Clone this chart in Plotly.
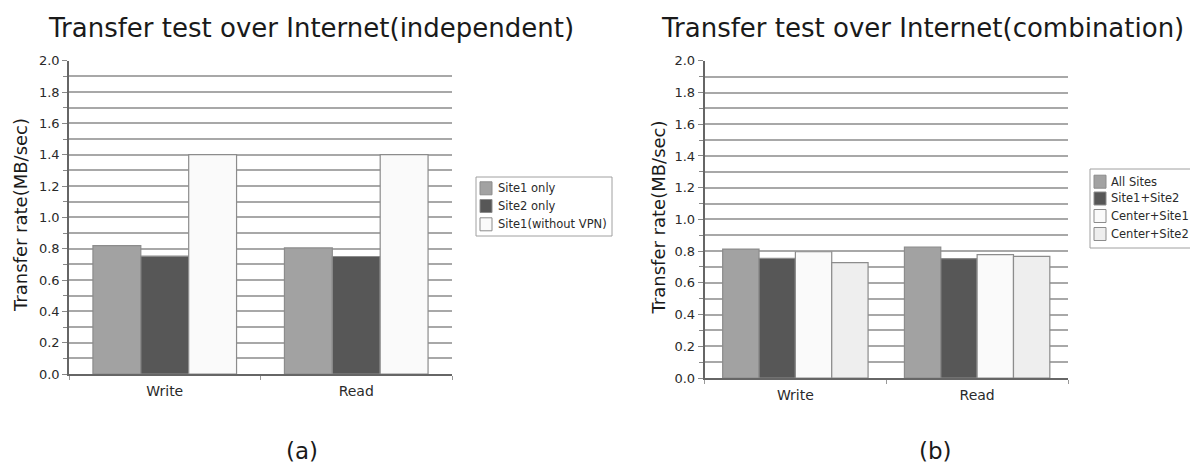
import plotly.graph_objects as go

# The page body adds an 8px margin, so the figure fills the rest of the window.
OFF = 8
W, H = 1198 - OFF, 466 - OFF

categories = ["Write", "Read"]

# Panel (a)
series_a_names = ["Site1 only", "Site2 only", "Site1(without VPN)"]
series_a_values = [
    [0.82, 0.805],
    [0.752, 0.75],
    [1.40, 1.40],
]
series_a_colors = ["#a2a2a2", "#575757", "#fafafa"]

# Panel (b)
series_b_names = ["All Sites", "Site1+Site2", "Center+Site1", "Center+Site2"]
series_b_values = [
    [0.813, 0.825],
    [0.754, 0.753],
    [0.796, 0.778],
    [0.727, 0.767],
]
series_b_colors = ["#a2a2a2", "#575757", "#fafafa", "#eeeeee"]

y_ticks = [0.0, 0.2, 0.4, 0.6, 0.8, 1.0, 1.2, 1.4, 1.6, 1.8, 2.0]
y_ticktext = ["%.1f" % v for v in y_ticks]

FONT = "DejaVu Sans"


def px_x(x):
    return (x - OFF) / W


def px_y(y):
    return 1 - (y - OFF) / H


fig = go.Figure()


def add_group(names, values, colors, xaxis, yaxis, group_width):
    n = len(names)
    bw = group_width / n
    for i, (nm, vals, col) in enumerate(zip(names, values, colors)):
        fig.add_trace(go.Bar(
            x=categories, y=vals, name=nm,
            width=bw, offset=-group_width / 2 + i * bw,
            marker=dict(color=col, line=dict(color="#8c8c8c", width=1.2)),
            xaxis=xaxis, yaxis=yaxis, showlegend=False,
        ))


add_group(series_a_names, series_a_values, series_a_colors, "x", "y", 0.75)
add_group(series_b_names, series_b_values, series_b_colors, "x2", "y2", 0.80)

xax = dict(
    type="category", range=[-0.5, 1.5], showgrid=False, automargin=False,
    showline=True, linecolor="#666666", linewidth=2,
    ticks="outside", tickson="boundaries", ticklen=4, tickcolor="#999999",
    ticklabelstandoff=3,
    tickfont=dict(family=FONT, size=14, color="#2a2a2a"),
    fixedrange=True,
)
yax = dict(
    range=[0, 2], tickvals=y_ticks, ticktext=y_ticktext, automargin=False,
    showgrid=True, gridcolor="#a8a8a8", gridwidth=1.5,
    zeroline=False, showline=True, linecolor="#666666", linewidth=1.5,
    ticks="outside", ticklen=5, tickcolor="#888888", tickwidth=1,
    minor=dict(dtick=0.1, tick0=0, showgrid=True, gridcolor="#a8a8a8",
               gridwidth=1.5, ticks="outside", ticklen=4, tickcolor="#888888"),
    tickfont=dict(family=FONT, size=13, color="#2a2a2a"),
    fixedrange=True,
)

fig.update_layout(
    width=W, height=H,
    margin=dict(l=0, r=0, t=0, b=0, pad=0, autoexpand=False),
    paper_bgcolor="white", plot_bgcolor="white",
    barmode="overlay", showlegend=False,
    xaxis=dict(xax, domain=[px_x(69), px_x(452)], anchor="y"),
    yaxis=dict(yax, domain=[px_y(374), px_y(60.7)], anchor="x"),
    xaxis2=dict(xax, domain=[px_x(704.5), px_x(1068)], anchor="y2"),
    yaxis2=dict(yax, domain=[px_y(378), px_y(60.8)], anchor="x2"),
    font=dict(family=FONT, color="#1a1a1a"),
)

annotations = []
shapes = []


def label(text, xc, yc, size, angle=0, xanchor="center", color="#1a1a1a"):
    annotations.append(dict(text=text, x=px_x(xc), y=px_y(yc), xref="paper", yref="paper",
                            xanchor=xanchor, yanchor="middle", showarrow=False,
                            textangle=angle, font=dict(family=FONT, size=size, color=color)))


# Titles
label("Transfer test over Internet(independent)", 311, 28, 26)
label("Transfer test over Internet(combination)", 922, 28, 26)
# Y titles
label("Transfer rate(MB/sec)", 20, 215, 18, angle=-90)
label("Transfer rate(MB/sec)", 658, 217.5, 18, angle=-90)
# Captions
label("(a)", 302, 451, 23)
label("(b)", 935, 451, 23)


def add_legend(names, colors, box, sym_x, row_y, text_x):
    x0, y0, x1, y1 = box
    shapes.append(dict(type="rect", xref="paper", yref="paper",
                       x0=px_x(x0), x1=px_x(x1), y0=px_y(y1), y1=px_y(y0),
                       line=dict(color="#a0a0a0", width=1), fillcolor="white"))
    for nm, col, ry in zip(names, colors, row_y):
        shapes.append(dict(type="rect", xref="paper", yref="paper",
                           x0=px_x(sym_x), x1=px_x(sym_x + 12),
                           y0=px_y(ry + 6.5), y1=px_y(ry - 6.5),
                           line=dict(color="#8c8c8c", width=1), fillcolor=col))
        label(nm, text_x, ry, 11.5, xanchor="left", color="#2a2a2a")


add_legend(series_a_names, series_a_colors, (476, 177, 612, 236), 480, [188.3, 206, 224.3], 496)
add_legend(series_b_names, series_b_colors, (1090, 169, 1196, 248), 1094, [181.7, 198.5, 216, 234], 1109)

fig.update_layout(annotations=annotations, shapes=shapes)

fig.write_html("out.html")
